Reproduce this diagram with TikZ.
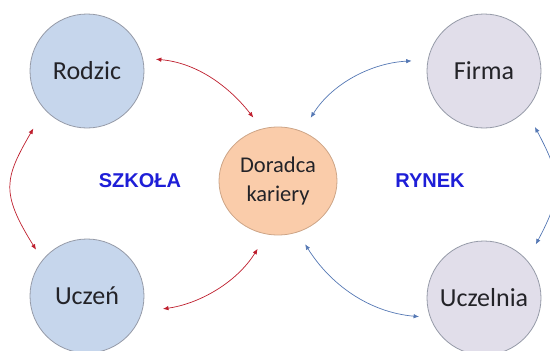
\documentclass[tikz,border=0pt]{standalone}
\usepackage{fontspec}
\setmainfont{Carlito}
\newfontfamily\areafont{Liberation Sans}
\usetikzlibrary{arrows.meta,shapes.geometric}

\definecolor{schoolfill}{RGB}{198,214,236}
\definecolor{marketfill}{RGB}{225,222,234}
\definecolor{advisorfill}{RGB}{250,204,170}
\definecolor{ringgray}{RGB}{150,155,168}
\definecolor{advisorring}{RGB}{205,165,135}
\definecolor{schoolarrow}{RGB}{190,30,45}
\definecolor{marketarrow}{RGB}{85,120,180}
\definecolor{areablue}{RGB}{30,30,215}
\definecolor{labelgray}{RGB}{35,35,40}

\tikzset{
  party/.style={circle, draw=ringgray, line width=0.8pt, minimum size=114pt,
    inner sep=0pt, text=labelgray, font=\fontsize{26}{30}\selectfont},
  schoolparty/.style={party, fill=schoolfill},
  marketparty/.style={party, fill=marketfill},
  advisor/.style={ellipse, draw=advisorring, line width=0.8pt, fill=advisorfill,
    minimum width=118pt, minimum height=108pt, inner sep=0pt, align=center,
    text=labelgray, font=\fontsize{22.5}{29}\selectfont},
  area/.style={text=areablue, font=\areafont\bfseries\fontsize{20}{24}\selectfont},
  link/.style={line width=0.7pt, {Latex[length=5.5pt,width=4.5pt]}-{Latex[length=5.5pt,width=4.5pt]}},
  schoollink/.style={link, draw=schoolarrow},
  marketlink/.style={link, draw=marketarrow},
}

\begin{document}
\begin{tikzpicture}[x=1pt, y=-1pt]
  \useasboundingbox (0,0) rectangle (550,351);

  % the five parties
  \node[schoolparty] (rod) at (87,71)  {Rodzic};
  \node[schoolparty] (ucz) at (87,296) {Uczeń};
  \node[marketparty] (fir) at (484,71) {Firma};
  \node[marketparty] (ucl) at (484,298) {Uczelnia};
  \node[advisor]     (dor) at (278,181) {Doradca\\kariery};

  % the two areas
  \node[area] (szk) at (140,181) {SZKOŁA};
  \node[area] (ryn) at (430,181) {RYNEK};

  % school side links
  \draw[schoollink, shorten <=13pt, shorten >=14pt]
    (rod.13) to[out=-5, in=128] (dor.107);
  \draw[schoollink, shorten <=22pt, shorten >=12pt]
    (rod.222) to[out=240, in=122, looseness=1.35] (ucz.141);
  \draw[schoollink, shorten <=21pt, shorten >=17pt]
    (ucz.-16) to[out=8, in=238] (dor.258);

  % market side links
  \draw[marketlink, shorten <=16pt, shorten >=16pt]
    (dor.64) to[out=58, in=183] (fir.169);
  \draw[marketlink, shorten <=19pt, shorten >=18pt]
    (fir.-43) to[out=-62, in=62, looseness=1.3] (ucl.41);
  \draw[marketlink, shorten <=14pt, shorten >=11pt]
    (dor.-69) to[out=-58, in=175] (ucl.200);
\end{tikzpicture}
\end{document}
